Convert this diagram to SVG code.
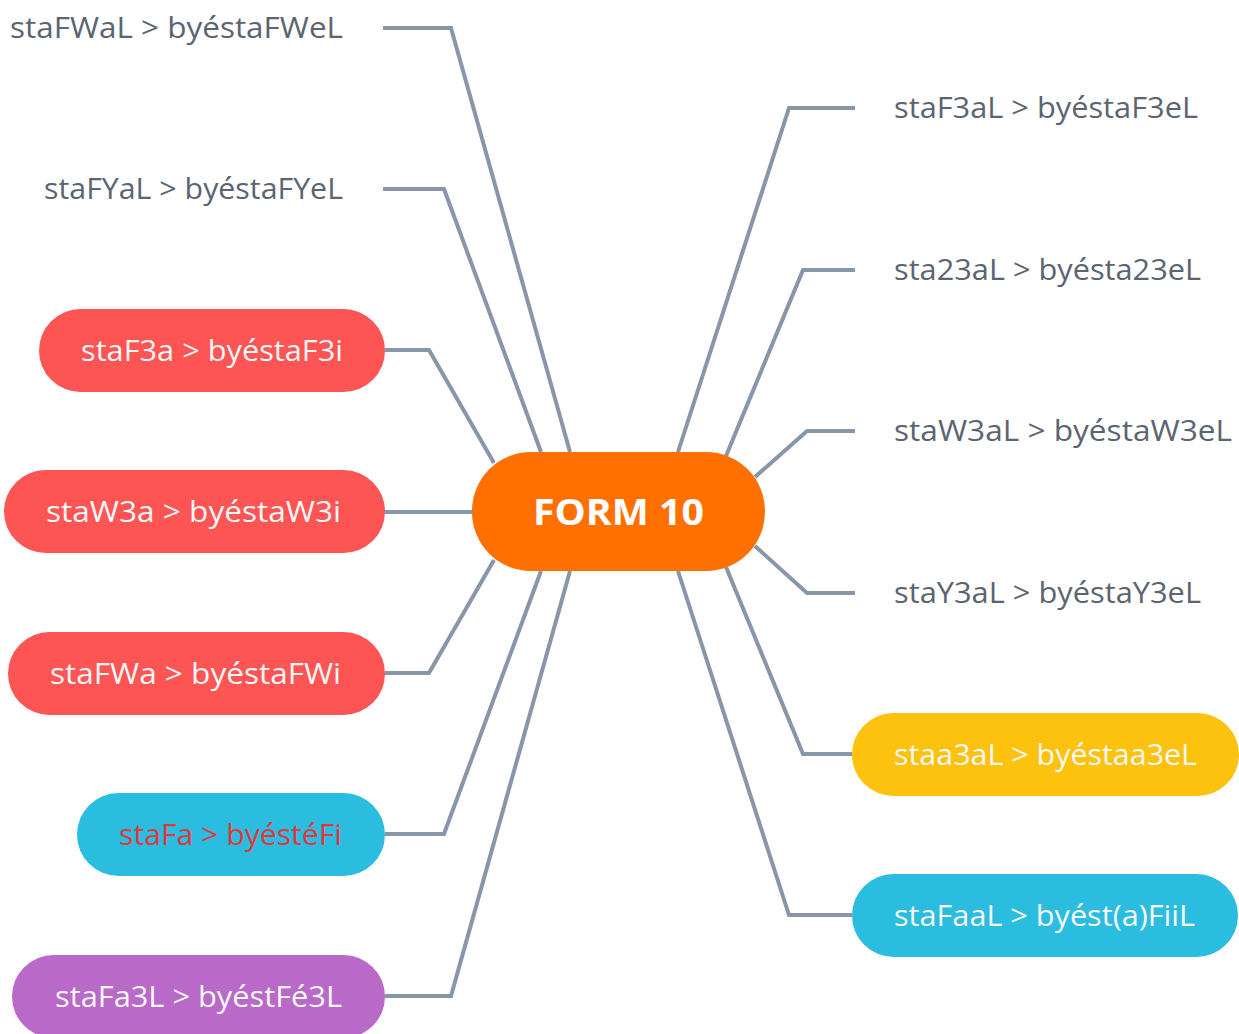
<svg xmlns="http://www.w3.org/2000/svg" width="1239" height="1034" viewBox="0 0 1239 1034">
<style>
.ln{fill:none;stroke:#8796a9;stroke-width:4;stroke-linejoin:miter}
.t{font-family:"Open Sans",Lato,"Liberation Sans",sans-serif;font-size:29px}
.g{fill:#5b6471}
.w{fill:#f7f7f7}
</style>
<rect width="1239" height="1034" fill="#ffffff"/>
<g id="connectors">
<polyline class="ln" points="383,28 451,28 570,452"/>
<polyline class="ln" points="383,189 444,189 541,452"/>
<polyline class="ln" points="385,350 429,350 494,463"/>
<polyline class="ln" points="385,512 472,512"/>
<polyline class="ln" points="385,673 429,673 494,560"/>
<polyline class="ln" points="385,834 444,834 541,571"/>
<polyline class="ln" points="385,996 451,996 570,571"/>
<polyline class="ln" points="855,108 789,108 678,452"/>
<polyline class="ln" points="855,270 803,270 726,456"/>
<polyline class="ln" points="855,431 807,431 755,477"/>
<polyline class="ln" points="855,593 807,593 755,546"/>
<polyline class="ln" points="852,754 803,754 726,567"/>
<polyline class="ln" points="852,915 789,915 678,571"/>
</g>
<g id="center">
<rect x="472" y="452" width="293" height="119" rx="59" fill="#ff7000"/>
<text x="533" y="525" textLength="171" lengthAdjust="spacingAndGlyphs" font-family="'Open Sans',Lato,'Liberation Sans',sans-serif" font-size="36" font-weight="bold" fill="#ffffff">FORM 10</text>
</g>
<g id="n1"><text class="t g" x="10" y="38" textLength="333" lengthAdjust="spacingAndGlyphs">staFWaL &gt; byéstaFWeL</text></g>
<g id="n2"><text class="t g" x="44" y="199" textLength="299" lengthAdjust="spacingAndGlyphs">staFYaL &gt; byéstaFYeL</text></g>
<g id="n3"><rect x="39" y="309" width="346" height="83" rx="41.5" fill="#fd5454"/><text class="t w" x="81" y="361" textLength="262" lengthAdjust="spacingAndGlyphs">staF3a &gt; byéstaF3i</text></g>
<g id="n4"><rect x="4" y="470" width="381" height="83" rx="41.5" fill="#fd5454"/><text class="t w" x="46" y="522" textLength="295" lengthAdjust="spacingAndGlyphs">staW3a &gt; byéstaW3i</text></g>
<g id="n5"><rect x="8" y="632" width="377" height="83" rx="41.5" fill="#fd5454"/><text class="t w" x="50" y="684" textLength="291" lengthAdjust="spacingAndGlyphs">staFWa &gt; byéstaFWi</text></g>
<g id="n6"><rect x="77" y="793" width="308" height="83" rx="41.5" fill="#2bbde0"/><text class="t" fill="#e0373c" x="119" y="845" textLength="223" lengthAdjust="spacingAndGlyphs">staFa &gt; byéstéFi</text></g>
<g id="n7"><rect x="12" y="955" width="373" height="83" rx="41.5" fill="#b96ac8"/><text class="t w" x="55" y="1007" textLength="287" lengthAdjust="spacingAndGlyphs">staFa3L &gt; byéstFé3L</text></g>
<g id="n8"><text class="t g" x="894" y="118" textLength="304" lengthAdjust="spacingAndGlyphs">staF3aL &gt; byéstaF3eL</text></g>
<g id="n9"><text class="t g" x="894" y="280" textLength="307" lengthAdjust="spacingAndGlyphs">sta23aL &gt; byésta23eL</text></g>
<g id="n10"><text class="t g" x="894" y="441" textLength="338" lengthAdjust="spacingAndGlyphs">staW3aL &gt; byéstaW3eL</text></g>
<g id="n11"><text class="t g" x="894" y="603" textLength="307" lengthAdjust="spacingAndGlyphs">staY3aL &gt; byéstaY3eL</text></g>
<g id="n12"><rect x="852" y="713" width="387" height="83" rx="41.5" fill="#fdc20e"/><text class="t w" x="894" y="765" textLength="303" lengthAdjust="spacingAndGlyphs">staa3aL &gt; byéstaa3eL</text></g>
<g id="n13"><rect x="852" y="874" width="386" height="83" rx="41.5" fill="#2bbde0"/><text class="t w" x="894" y="926" textLength="301" lengthAdjust="spacingAndGlyphs">staFaaL &gt; byést(a)FiiL</text></g>
</svg>
